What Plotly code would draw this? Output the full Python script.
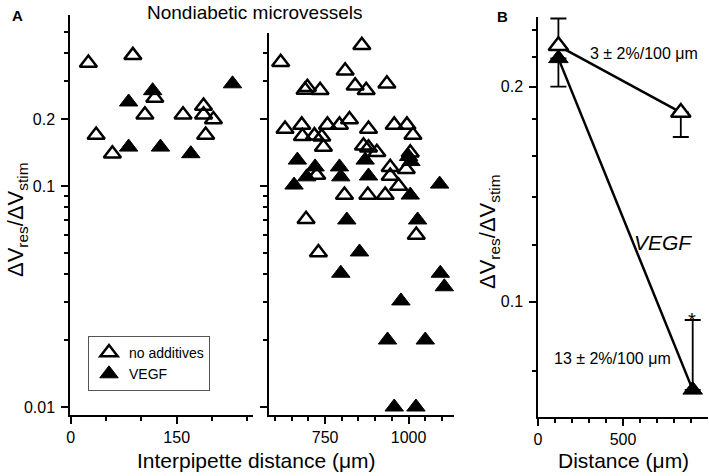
import math
import plotly.graph_objects as go

W, H = 709, 476

# ---------------- data (panel A) ----------------
left_open_x = [25, 88, 119, 105, 159, 188, 188, 202, 36, 59, 191]
left_open_y = [0.36, 0.39, 0.25, 0.21, 0.21, 0.23, 0.21, 0.20, 0.17, 0.14, 0.17]
left_vegf_x = [82, 116, 229, 82, 127, 170]
left_vegf_y = [0.24, 0.27, 0.29, 0.15, 0.15, 0.14]

right_open_x = [860, 617, 810, 690, 697, 735, 840, 873, 935, 630, 680, 757, 793, 823,
                682, 718, 740, 745, 880, 957, 995, 1013, 865, 880, 905, 1005, 945, 725,
                945, 993, 970, 808, 878, 930, 693, 1023, 730]
right_open_y = [0.433, 0.363, 0.332, 0.272, 0.280, 0.271, 0.284, 0.271, 0.290, 0.181, 0.189,
                0.189, 0.189, 0.200, 0.168, 0.169, 0.167, 0.150, 0.181, 0.189, 0.189, 0.170,
                0.152, 0.149, 0.142, 0.1415, 0.1215, 0.112, 0.111, 0.119, 0.100, 0.091, 0.091,
                0.091, 0.0707, 0.060, 0.050]
right_vegf_x = [667, 720, 695, 657, 793, 797, 870, 880, 1000, 1007, 1093, 1005, 815, 1027,
                853, 797, 1095, 1107, 977, 937, 1050, 957, 1022]
right_vegf_y = [0.131, 0.122, 0.110, 0.101, 0.122, 0.110, 0.131, 0.111, 0.136, 0.129, 0.102,
                0.091, 0.0702, 0.0702, 0.0503, 0.0403, 0.0403, 0.035, 0.0302, 0.0201, 0.0201,
                0.0100, 0.0100]

# ---------------- data (panel B) ----------------
b_open_x = [120, 840]
b_open_y = [0.228, 0.184]
b_open_err_plus = [0.021, 0.0]
b_open_err_minus = [0.028, 0.014]
b_vegf_x = [120, 910]
b_vegf_y = [0.219, 0.0753]
b_vegf_err_plus = [0.0, 0.019]
b_vegf_err_minus = [0.0, 0.0]

# tick labels
a_left_ticks = [0, 150]
a_left_minor = [50, 100, 200, 250]
a_right_ticks = [750, 1000]
a_right_minor = [600, 650, 700, 800, 850, 900, 950, 1050, 1100]
a_y_ticks = [0.01, 0.1, 0.2]
a_y_ticktext = ["0.01", "0.1", "0.2"]
a_y_minor = [0.02, 0.03, 0.04, 0.05, 0.06, 0.07, 0.08, 0.09, 0.3, 0.4, 0.5]
b_x_ticks = [0, 500]
b_x_minor = [100, 200, 300, 400, 600, 700, 800, 900]
b_y_ticks = [0.1, 0.2]
b_y_ticktext = ["0.1", "0.2"]
b_y_minor = [0.08, 0.12, 0.14, 0.16, 0.18, 0.22, 0.24]

FONT = "Arial, 'Liberation Sans', Helvetica, sans-serif"


def px(x):
    return x / W


def py(y):
    return 1 - y / H


fig = go.Figure()

open_marker_a = dict(symbol="triangle-up-open", size=15, color="black", line=dict(width=2.5, color="black"))
fill_marker_a = dict(symbol="triangle-up", size=16, color="black", line=dict(width=1, color="black"))

fig.add_trace(go.Scatter(x=left_open_x, y=left_open_y, mode="markers", marker=open_marker_a,
                         name="no additives", xaxis="x", yaxis="y"))
fig.add_trace(go.Scatter(x=left_vegf_x, y=left_vegf_y, mode="markers", marker=fill_marker_a,
                         name="VEGF", xaxis="x", yaxis="y"))
fig.add_trace(go.Scatter(x=right_open_x, y=right_open_y, mode="markers", marker=open_marker_a,
                         showlegend=False, xaxis="x2", yaxis="y2"))
fig.add_trace(go.Scatter(x=right_vegf_x, y=right_vegf_y, mode="markers", marker=fill_marker_a,
                         showlegend=False, xaxis="x2", yaxis="y2"))

fig.add_trace(go.Scatter(
    x=b_open_x, y=b_open_y, mode="lines+markers", showlegend=False, xaxis="x3", yaxis="y3",
    line=dict(color="black", width=2.5), cliponaxis=False,
    marker=dict(symbol="triangle-up", size=17, color="white", line=dict(width=2.5, color="black")),
    error_y=dict(type="data", symmetric=False, array=b_open_err_plus, arrayminus=b_open_err_minus,
                 color="black", thickness=1.8, width=8)))
fig.add_trace(go.Scatter(
    x=b_vegf_x, y=b_vegf_y, mode="lines+markers", showlegend=False, xaxis="x3", yaxis="y3",
    line=dict(color="black", width=2.5), cliponaxis=False,
    marker=dict(symbol="triangle-up", size=17, color="black", line=dict(width=1, color="black")),
    error_y=dict(type="data", symmetric=False, array=b_vegf_err_plus, arrayminus=b_vegf_err_minus,
                 color="black", thickness=1.8, width=8)))

axis_common = dict(showline=True, linecolor="black", linewidth=1.5, ticks="outside", ticklen=7,
                   tickwidth=1.5, tickcolor="black", showgrid=False, zeroline=False,
                   automargin=False,
                   tickfont=dict(family=FONT, size=16, color="black"))


def minor(vals):
    return dict(tickmode="array", tickvals=vals, ticks="outside", ticklen=4, tickwidth=1.5,
                tickcolor="black", showgrid=False)


a_ybot = math.log10(0.0092)
a_ytop_left = a_ybot + (415 - 15) / 221
a_ytop_right = a_ybot + (415 - 33) / 221

fig.update_layout(
    width=W, height=H,
    margin=dict(l=0, r=0, t=0, b=0, autoexpand=False),
    paper_bgcolor="white", plot_bgcolor="white",
    font=dict(family=FONT, color="black"),
    xaxis=dict(domain=[px(70), px(253)], range=[-1, 258], anchor="y", tickvals=a_left_ticks,
               minor=minor(a_left_minor), **axis_common),
    yaxis=dict(domain=[py(415), py(15)], type="log", range=[a_ybot, a_ytop_left], anchor="x",
               tickvals=a_y_ticks, ticktext=a_y_ticktext, minor=minor(a_y_minor),
               ticklabelstandoff=3, **axis_common),
    xaxis2=dict(domain=[px(269), px(454)], range=[582, 1136], anchor="y2", tickvals=a_right_ticks,
                minor=minor(a_right_minor), **axis_common),
    yaxis2=dict(domain=[py(415), py(33)], type="log", range=[a_ybot, a_ytop_right], anchor="x2",
                tickvals=a_y_ticks, showticklabels=False, minor=minor(a_y_minor), **axis_common),
    xaxis3=dict(domain=[px(538), px(708)], range=[0, 1000], anchor="y3", tickvals=b_x_ticks,
                minor=minor(b_x_minor), **axis_common),
    yaxis3=dict(domain=[py(417), py(17)], type="log", range=[math.log10(0.069), math.log10(0.2502)],
                anchor="x3", tickvals=b_y_ticks, ticktext=b_y_ticktext, minor=minor(b_y_minor),
                ticklabelstandoff=3, **axis_common),
    legend=dict(x=px(88), y=py(336), xanchor="left", yanchor="top", bgcolor="white",
                bordercolor="#555555", borderwidth=1, font=dict(family=FONT, size=14, color="black"),
                itemwidth=30, tracegroupgap=0),
)

ann = []


def add_text(x, y, text, size, angle=0, bold=False, italic=False, xanchor="center"):
    t = text
    if bold:
        t = "<b>" + t + "</b>"
    if italic:
        t = "<i>" + t + "</i>"
    ann.append(dict(x=px(x), y=py(y), xref="paper", yref="paper", text=t, showarrow=False,
                    textangle=angle, xanchor=xanchor, yanchor="middle",
                    font=dict(family=FONT, size=size, color="black")))


add_text(17, 16, "A", 15, bold=True)
add_text(502, 17, "B", 15, bold=True)
add_text(254, 12, "Nondiabetic microvessels", 19)
add_text(256, 460, "Interpipette distance (μm)", 21)
add_text(623, 460, "Distance (μm)", 21)
add_text(17, 220, "ΔV<sub>res</sub>/ΔV<sub>stim</sub>", 22, angle=-90)
add_text(489, 232, "ΔV<sub>res</sub>/ΔV<sub>stim</sub>", 22, angle=-90)
add_text(644, 53, "3 ± 2%/100 μm", 16)
add_text(663, 243, "VEGF", 21, italic=True)
add_text(612, 358, "13 ± 2%/100 μm", 16)
add_text(692, 320, "*", 20)

fig.update_layout(annotations=ann)

fig.write_html("out.html", config={"displayModeBar": False},
               post_script="document.body.style.margin='0px';document.body.style.padding='0px';")
